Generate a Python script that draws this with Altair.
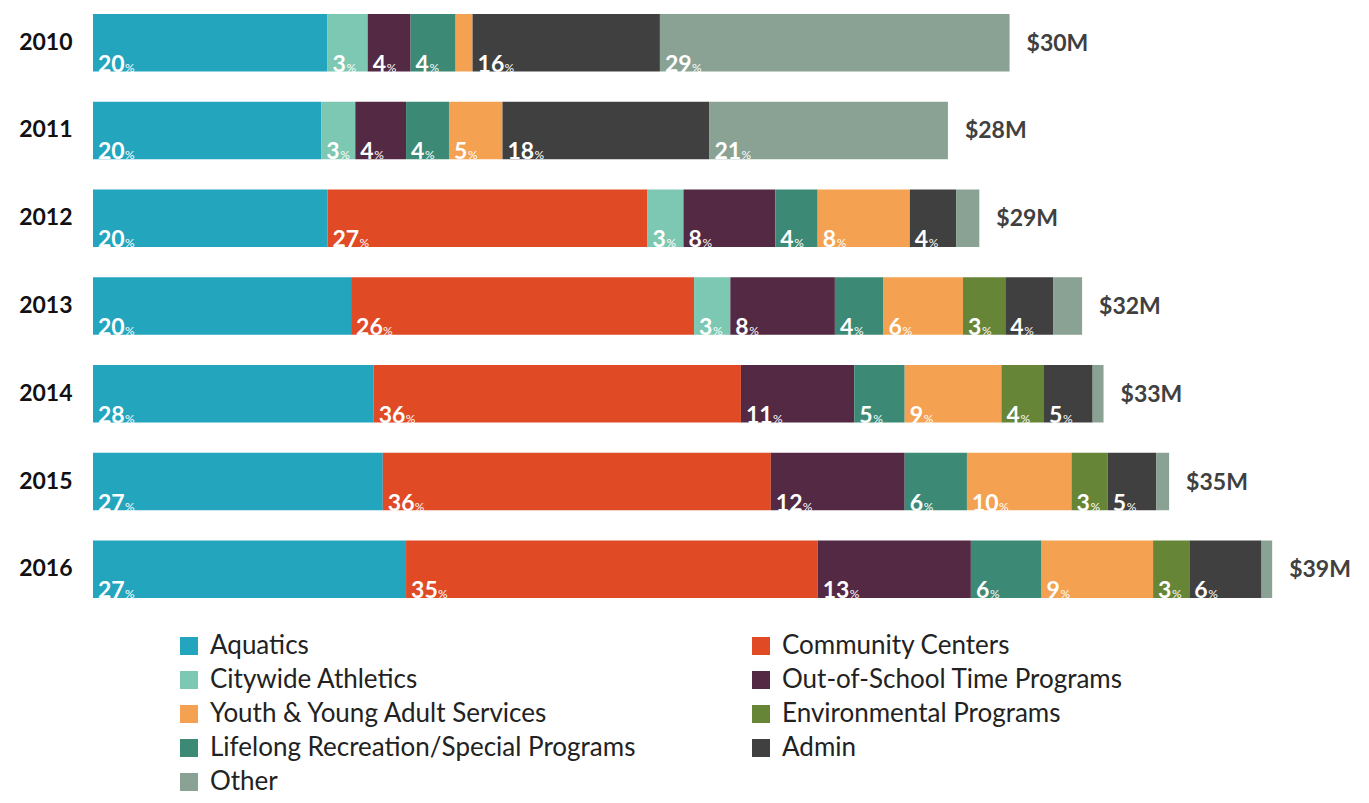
import altair as alt
import pandas as pd

years = ["2010", "2011", "2012", "2013", "2014", "2015", "2016"]

# Stack order of the segments within each bar
categories = [
    "Aquatics",
    "Community Centers",
    "Citywide Athletics",
    "Out-of-School Time Programs",
    "Lifelong Recreation/Special Programs",
    "Youth & Young Adult Services",
    "Environmental Programs",
    "Admin",
    "Other",
]

# Legend order (column-major, two columns)
legend_order = [
    "Aquatics",
    "Citywide Athletics",
    "Youth & Young Adult Services",
    "Lifelong Recreation/Special Programs",
    "Other",
    "Community Centers",
    "Out-of-School Time Programs",
    "Environmental Programs",
    "Admin",
]
legend_colors = [
    "#23A5BD",
    "#7CC8B2",
    "#F4A252",
    "#3C8A75",
    "#8AA294",
    "#E04A25",
    "#532944",
    "#678537",
    "#404040",
]

# Segment amounts in $M
aquatics = [7.76, 7.55, 7.76, 8.54, 9.29, 9.59, 10.36]
community_centers = [0, 0, 10.59, 11.35, 12.15, 12.84, 13.62]
citywide_athletics = [1.33, 1.13, 1.19, 1.20, 0, 0, 0]
out_of_school = [1.42, 1.68, 3.04, 3.46, 3.75, 4.43, 5.07]
lifelong = [1.49, 1.42, 1.40, 1.61, 1.67, 2.06, 2.34]
youth = [0.56, 1.77, 3.05, 2.63, 3.20, 3.46, 3.69]
environmental = [0, 0, 0, 1.40, 1.41, 1.20, 1.20]
admin = [6.20, 6.85, 1.53, 1.58, 1.61, 1.61, 2.39]
other = [11.57, 7.89, 0.77, 0.96, 0.36, 0.42, 0.35]

# Printed percentage labels (None = no label)
aquatics_pct = [20, 20, 20, 20, 28, 27, 27]
community_centers_pct = [None, None, 27, 26, 36, 36, 35]
citywide_athletics_pct = [3, 3, 3, 3, None, None, None]
out_of_school_pct = [4, 4, 8, 8, 11, 12, 13]
lifelong_pct = [4, 4, 4, 4, 5, 6, 6]
youth_pct = [None, 5, 8, 6, 9, 10, 9]
environmental_pct = [None, None, None, 3, 4, 3, 3]
admin_pct = [16, 18, 4, 4, 5, 5, 6]
other_pct = [29, 21, None, None, None, None, None]

total_labels = ["$30M", "$28M", "$29M", "$32M", "$33M", "$35M", "$39M"]

values = [aquatics, community_centers, citywide_athletics, out_of_school,
          lifelong, youth, environmental, admin, other]
pcts = [aquatics_pct, community_centers_pct, citywide_athletics_pct,
        out_of_school_pct, lifelong_pct, youth_pct, environmental_pct,
        admin_pct, other_pct]

rows = []
for ci, (cat, vals, pl) in enumerate(zip(categories, values, pcts)):
    for yi, y in enumerate(years):
        if vals[yi] > 0:
            p = pl[yi]
            rows.append({
                "year": y,
                "category": cat,
                "ord": ci,
                "value": vals[yi],
                "pct": "" if p is None else str(p),
                "digits": 0 if p is None else len(str(p)),
            })
df = pd.DataFrame(rows)
totals_df = pd.DataFrame({"year": years, "label": total_labels})

FONT = "Lato"

base = alt.Chart(df).transform_stack(
    stack="value",
    groupby=["year"],
    as_=["x0", "x1"],
    sort=[alt.SortField("ord", order="ascending")],
)

xscale = alt.Scale(domain=[0, 41], nice=False, zero=True)
yscale = alt.Scale(domain=years, paddingInner=0.345, paddingOuter=0)

bars = base.mark_bar(strokeWidth=0).encode(
    x=alt.X("x0:Q", scale=xscale, axis=None),
    x2="x1:Q",
    y=alt.Y(
        "year:N",
        scale=yscale,
        sort=years,
        axis=alt.Axis(
            title=None, domain=False, ticks=False, labelPadding=21,
            labelFontSize=23, labelFontWeight="bold", labelColor="#111111",
            labelFont=FONT,
        ),
    ),
    color=alt.Color(
        "category:N",
        scale=alt.Scale(domain=legend_order, range=legend_colors),
        legend=alt.Legend(
            title=None, orient="none", legendX=83, legendY=619,
            columns=2, symbolType="square", symbolSize=324,
            symbolStrokeWidth=0, labelFontSize=26, labelFont=FONT,
            labelColor="#222222", labelOffset=8, labelLimit=800,
            rowPadding=8, columnPadding=112, padding=0, gridAlign="all",
        ),
    ),
)

num_text = base.transform_filter("datum.digits > 0").mark_text(
    align="left", baseline="alphabetic", dx=5, dy=29,
    font=FONT, fontSize=23, fontWeight="bold", color="white",
).encode(
    x=alt.X("x0:Q", scale=xscale),
    y=alt.Y("year:N", scale=yscale, sort=years),
    text="pct:N",
)

pct1 = base.transform_filter("datum.digits == 1").mark_text(
    align="left", baseline="alphabetic", dx=19, dy=29,
    font=FONT, fontSize=12, color="white",
).encode(
    x=alt.X("x0:Q", scale=xscale),
    y=alt.Y("year:N", scale=yscale, sort=years),
    text=alt.value("%"),
)

pct2 = base.transform_filter("datum.digits == 2").mark_text(
    align="left", baseline="alphabetic", dx=32, dy=29,
    font=FONT, fontSize=12, color="white",
).encode(
    x=alt.X("x0:Q", scale=xscale),
    y=alt.Y("year:N", scale=yscale, sort=years),
    text=alt.value("%"),
)

totals = alt.Chart(df).transform_aggregate(
    total="sum(value)", groupby=["year"]
).transform_lookup(
    lookup="year", from_=alt.LookupData(totals_df, key="year", fields=["label"])
).mark_text(
    align="left", baseline="middle", dx=17, dy=1,
    font=FONT, fontSize=23, fontWeight="bold", color="#404040",
).encode(
    x=alt.X("total:Q", scale=xscale),
    y=alt.Y("year:N", scale=yscale, sort=years),
    text="label:N",
)

chart = alt.layer(bars, num_text, pct1, pct2, totals).properties(
    width=1239, height=584,
    padding={"left": 10, "top": 6, "right": 5, "bottom": 0},
    background="white",
).configure_view(strokeWidth=0, strokeOpacity=0)

chart.save("out.html", embed_options={"renderer": "svg", "actions": False})
